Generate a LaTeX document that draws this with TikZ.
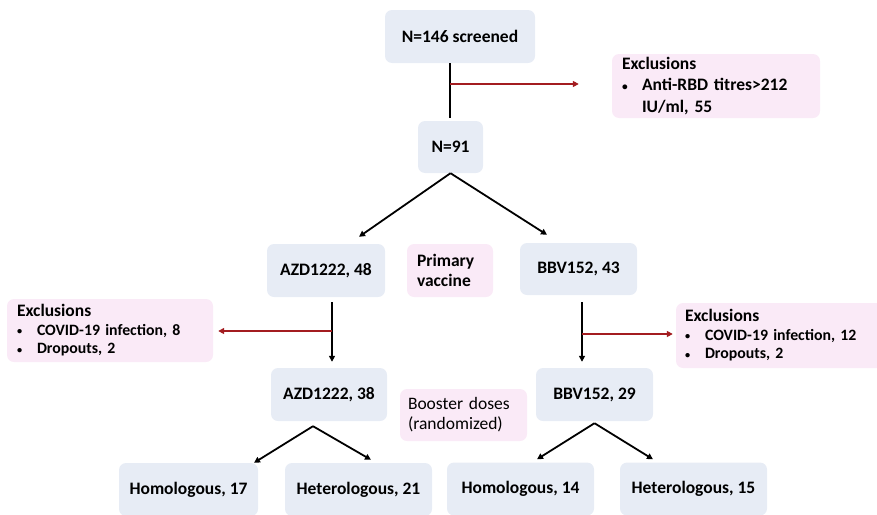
\documentclass[tikz,border=0pt]{standalone}
\usepackage{fontspec}
\setmainfont{Carlito}
\usetikzlibrary{arrows.meta,calc}
\tikzstyle{flowChart} = [x = 1pt, y = -1pt]
\definecolor{stageColor}{RGB}{231,236,245}
\definecolor{exclColor}{RGB}{250,234,247}
\definecolor{exclLineColor}{RGB}{163,28,32}
\tikzstyle{stageBox} = [fill=stageColor, rounded corners = 7pt, inner sep = 0pt, font=\fontsize{17.5}{20}\selectfont\bfseries]
\tikzstyle{labelBox} = [fill=exclColor, rounded corners = 7pt, inner ysep = 0pt, align=left]
\tikzstyle{exclBox} = [labelBox, font=\fontsize{15.8}{18.5}\selectfont\bfseries]
\tikzstyle{flowLine} = [color=black, line width=1.8pt]
\tikzstyle{flowArrow} = [flowLine, -{Triangle[length=6pt, width=6pt]}]
\tikzstyle{exclArrow} = [color=exclLineColor, line width=1.8pt, -{Triangle[length=6pt, width=6pt]}]
\newcommand{\exclHead}{{\fontsize{17.5}{20}\selectfont Exclusions}}
\newcommand{\exclItem}[1]{\makebox[20pt][l]{\raisebox{0.5pt}{\scalebox{0.65}{\textbullet}}}#1}
\newcommand{\exclIndent}{\hspace*{20pt}}
\begin{document}
\begin{tikzpicture}[flowChart]
  \useasboundingbox (0,0) rectangle (877,514);

  % enrolment
  \node [stageBox, minimum width=150pt, minimum height=53pt] (screened) at (460,36.5) {N=146 screened};
  \node [stageBox, minimum width=65pt, minimum height=52pt] (n91) at (450.5,147) {N=91};
  \node [labelBox, font=\fontsize{17.5}{21.5}\selectfont\bfseries, text width=188pt, inner xsep=10pt, minimum height=64pt] (exclTop) at (716,86)
    {Exclusions\\ \exclItem{Anti-RBD titres>212}\\ \exclIndent IU/ml, 55};

  % primary vaccine
  \node [stageBox, minimum width=118pt, minimum height=53pt] (azdPrimary) at (326,270.5) {AZD1222, 48};
  \node [stageBox, minimum width=117pt, minimum height=52pt] (bbvPrimary) at (578.5,269) {BBV152, 43};
  \node [labelBox, font=\fontsize{17.5}{20}\selectfont\bfseries, text width=66pt, inner xsep=10pt, minimum height=53pt] (primaryLabel) at (450,270.5) {Primary\\vaccine};
  \node [exclBox, text width=186pt, inner xsep=10pt, minimum height=63pt] (exclLeft) at (110,330.5)
    {\exclHead\\ \exclItem{COVID-19 infection, 8}\\ \exclItem{Dropouts, 2}};
  \node [exclBox, text width=192pt, inner xsep=9pt, minimum height=65pt] (exclRight) at (781,335.5)
    {\exclHead\\ \exclItem{COVID-19 infection, 12}\\ \exclItem{Dropouts, 2}};

  % booster doses
  \node [stageBox, minimum width=116pt, minimum height=53pt] (azdBooster) at (329,394.5) {AZD1222, 38};
  \node [stageBox, minimum width=117pt, minimum height=53pt] (bbvBooster) at (594.5,394.5) {BBV152, 29};
  \node [labelBox, font=\fontsize{17.5}{20}\selectfont, text width=111pt, inner xsep=8pt, minimum height=52pt] (boosterLabel) at (463.5,415) {Booster doses\\(randomized)};
  \node [stageBox, minimum width=139pt, minimum height=53pt] (homAzd) at (188.5,489.5) {Homologous, 17};
  \node [stageBox, minimum width=147pt, minimum height=53pt] (hetAzd) at (358.5,489.5) {Heterologous, 21};
  \node [stageBox, minimum width=147pt, minimum height=53pt] (homBbv) at (520.5,489) {Homologous, 14};
  \node [stageBox, minimum width=147pt, minimum height=53pt] (hetBbv) at (693.5,489) {Heterologous, 15};

  \coordinate (topSplit) at (450,84);
  \coordinate (azdSplit) at (332,331);
  \coordinate (bbvSplit) at (582,334);
  \coordinate (azdEntry) at ($(azdPrimary.north)+(33,-7)$);
  \coordinate (bbvEntry) at ($(bbvPrimary.north)+(-31.5,-8)$);
  \coordinate (azdFork) at ($(azdBooster.south)+(-16,5)$);
  \coordinate (bbvFork) at ($(bbvBooster.south)+(0,2)$);

  \draw [flowLine, shorten >=3pt] (screened.south -| topSplit) -- (n91.north -| topSplit);
  \draw [exclArrow, shorten >=33pt] (topSplit) -- (topSplit -| exclTop.west);
  \draw [flowArrow] (n91.south) -- (azdEntry);
  \draw [flowArrow] (n91.south) -- (bbvEntry);

  \draw [flowArrow, shorten <=5pt, shorten >=6pt] (azdPrimary.south -| azdSplit) -- (azdBooster.north -| azdSplit);
  \draw [flowArrow, shorten <=7pt, shorten >=6pt] (bbvPrimary.south -| bbvSplit) -- (bbvBooster.north -| bbvSplit);
  \draw [exclArrow, shorten >=5pt] (azdSplit) -- (azdSplit -| exclLeft.east);
  \draw [exclArrow, shorten >=3pt] (bbvSplit) -- (bbvSplit -| exclRight.west);

  \draw [flowArrow] (azdFork) -- ($(homAzd.north)+(65.5,0)$);
  \draw [flowArrow] (azdFork) -- ($(hetAzd.north)+(12.5,-3)$);
  \draw [flowArrow] (bbvFork) -- ($(homBbv.north)+(16.5,-3)$);
  \draw [flowArrow] (bbvFork) -- ($(hetBbv.north)+(-40.5,-3)$);
\end{tikzpicture}
\end{document}
